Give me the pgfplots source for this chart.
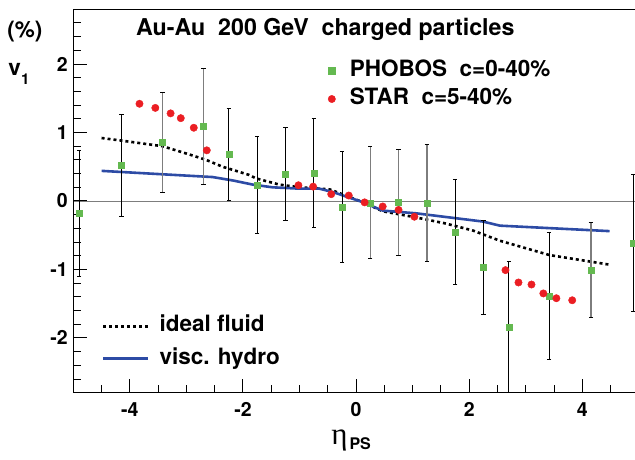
\documentclass[border=0pt]{standalone}
\usepackage{pgfplots}
\pgfplotsset{compat=1.18}
\usepackage{fontspec}
\setmainfont{TeX Gyre Heros}
\newfontfamily\serifgreek{Liberation Serif}
\definecolor{phobos}{RGB}{100,185,80}
\definecolor{star}{RGB}{235,30,35}
\definecolor{visc}{RGB}{45,75,165}
\definecolor{bargray}{RGB}{125,125,125}

\pgfplotstableread{
x y e
-4.90 -0.18 0.92
-4.15  0.52 0.74
-2.25  0.68 0.67
-1.75  0.235 0.705
-1.25  0.39 0.68
-0.75  0.41 0.79
-0.25 -0.085 0.815
 1.75 -0.45 0.77
 2.25 -0.97 0.68
 2.70 -1.84 0.96
 3.41 -1.39 0.93
 4.90 -0.61 1.00
}\phobosA
\pgfplotstableread{
x y e
-3.42  0.86 0.73
-2.70  1.09 0.85
 0.25 -0.025 0.815
 0.75 -0.02 0.78
 1.25 -0.025 0.855
 4.15 -1.01 0.69
}\phobosB
\pgfplotstableread{
x y
-3.83  1.42
-3.55  1.36
-3.28  1.28
-3.10  1.21
-2.87  1.07
-2.64  0.74
-1.02  0.23
-0.76  0.21
-0.44  0.10
-0.13  0.08
 0.15 -0.02
 0.47 -0.08
 0.75 -0.13
 1.03 -0.23
 2.64 -1.01
 2.87 -1.19
 3.10 -1.22
 3.31 -1.35
 3.54 -1.42
 3.82 -1.45
}\star
\pgfplotstableread{
x y
-4.50  0.92
-4.13  0.88
-3.42  0.80
-2.95  0.68
-2.65  0.60
-2.36  0.50
-2.24  0.47
-1.89  0.38
-1.77  0.33
-1.36  0.24
-1.00  0.20
-0.47  0.17
-0.12  0.06
 0.18 -0.04
 0.47 -0.15
 1.06 -0.24
 1.59 -0.33
 2.06 -0.43
 2.54 -0.58
 3.42 -0.79
 4.48 -0.93
}\ideal
\pgfplotstableread{
x y
-4.50  0.44
-3.42  0.39
-2.54  0.35
-2.18  0.30
-1.83  0.24
-1.48  0.20
-1.00  0.18
-0.65  0.18
-0.41  0.13
 0.06  0.00
 0.47 -0.14
 1.06 -0.18
 1.65 -0.24
 2.24 -0.30
 2.54 -0.36
 4.48 -0.44
}\viscous

\begin{document}
\begin{tikzpicture}[x=1pt,y=1pt]
\path[use as bounding box] (0,0) rectangle (635,460);
\pgfplotsset{
  common/.style={
    at={(73.3pt,67.3pt)}, anchor=south west,
    scale only axis, width=561.7pt, height=383.4pt,
    xmin=-5, xmax=4.93, ymin=-2.8, ymax=2.8,
  }
}
\begin{axis}[
  common, name=main,
  axis line style={draw=none},
  tick align=inside,
  xtick pos=left, ytick pos=left,
  xtick={-4,-2,0,2,4}, xticklabels={-4,-2,0,2,4},
  ytick={-2,-1,0,1,2}, yticklabels={-2,-1,0,1,2},
  minor xtick={-4.5,-3.5,-3,-2.5,-1.5,-1,-0.5,0.5,1,1.5,2.5,3,3.5,4.5},
  minor ytick={-2.6,-2.4,-2.2,-1.8,-1.6,-1.4,-1.2,-0.8,-0.6,-0.4,-0.2,0.2,0.4,0.6,0.8,1.2,1.4,1.6,1.8,2.2,2.4,2.6},
  major tick length=14pt, minor tick length=7.5pt,
  every tick/.style={black, line width=1pt},
  ticklabel style={font=\bfseries\fontsize{19.5}{19.5}\selectfont},
  xticklabel style={yshift=-6pt},
  yticklabel style={xshift=-2pt},
  legend style={draw=none, fill=none,
    at={(axis description cs:0.0506,0.2021)}, anchor=north west,
    font=\bfseries\fontsize{22.5}{22.5}\selectfont,
    inner sep=0pt, row sep=10.3pt,
    nodes={inner sep=0pt, text height=16.5pt, text depth=5.5pt},
    /tikz/every odd column/.append style={column sep=10pt}},
  legend cell align=left,
  legend image code/.code={\draw[#1] (0pt,0pt) -- (45pt,0pt);},
]
\draw[bargray, line width=0.9pt] (axis cs:-5,0) -- (axis cs:4.93,0);
\addplot[black, line width=2.6pt, dash pattern=on 3pt off 3pt] table[x=x,y=y] {\ideal};
\addlegendentry{ideal fluid}
\addplot[visc, line width=2.6pt] table[x=x,y=y] {\viscous};
\addlegendentry{visc. hydro}
\end{axis}

\begin{axis}[common, hide axis]
\addplot[only marks, mark=square*, mark size=3pt, mark options={draw=phobos, fill=phobos},
  error bars/.cd, y dir=both, y explicit,
  error bar style={black, line width=0.8pt},
  error mark options={rotate=90, mark size=2.2pt, line width=0.9pt, black}]
  table[x=x, y=y, y error=e] {\phobosA};
\addplot[only marks, mark=square*, mark size=3pt, mark options={draw=phobos, fill=phobos},
  error bars/.cd, y dir=both, y explicit,
  error bar style={bargray, line width=1.5pt},
  error mark options={rotate=90, mark size=2.2pt, line width=0.9pt, black}]
  table[x=x, y=y, y error=e] {\phobosB};
\addplot[only marks, mark=*, mark size=3.7pt, mark options={draw=star, fill=star}]
  table[x=x, y=y] {\star};
\end{axis}

\begin{axis}[
  common, hide axis,
  legend style={draw=none, fill=none,
    at={(axis description cs:0.4531,0.869)}, anchor=north west,
    font=\bfseries\fontsize{22.5}{22.5}\selectfont,
    inner sep=0pt, row sep=6.3pt,
    nodes={inner sep=0pt, text height=16.5pt, text depth=5.5pt},
    /tikz/every odd column/.append style={column sep=14.2pt}},
  legend cell align=left,
  legend image code/.code={\draw[mark repeat=2, mark phase=2, #1] plot coordinates {(0pt,0pt) (8.5pt,0pt) (17pt,0pt)};},
]
\addlegendimage{only marks, mark=square*, mark size=3.8pt, mark options={draw=phobos, fill=phobos}}
\addlegendentry{PHOBOS\ \ c=0-40\%}
\addlegendimage{only marks, mark=*, mark size=3.7pt, mark options={draw=star, fill=star}}
\addlegendentry{STAR\ \ c=5-40\%}
\end{axis}

\draw[black, line width=1.3pt] (main.south east) -- (main.south west) -- (main.north west) -- (main.north east);

\node[anchor=base west, inner sep=0pt, font=\bfseries\fontsize{23.2}{23.2}\selectfont] at (136,424) {Au-Au\ \ 200 GeV\ \ charged particles};
\node[anchor=base west, inner sep=0pt, font=\bfseries\fontsize{22.5}{22.5}\selectfont] at (7.3,422.7) {(\%)};
\node[anchor=base west, inner sep=0pt, font=\bfseries\fontsize{22.5}{22.5}\selectfont] at (8.3,384) {v\raisebox{-9pt}{\fontsize{15}{15}\selectfont 1}};
\node[anchor=base west, inner sep=0pt] at (331.2,15) {\serifgreek\fontsize{31}{31}\selectfont η};
\node[anchor=base west, inner sep=0pt, font=\bfseries\fontsize{16}{16}\selectfont] at (349.3,10) {PS};
\end{tikzpicture}
\end{document}
